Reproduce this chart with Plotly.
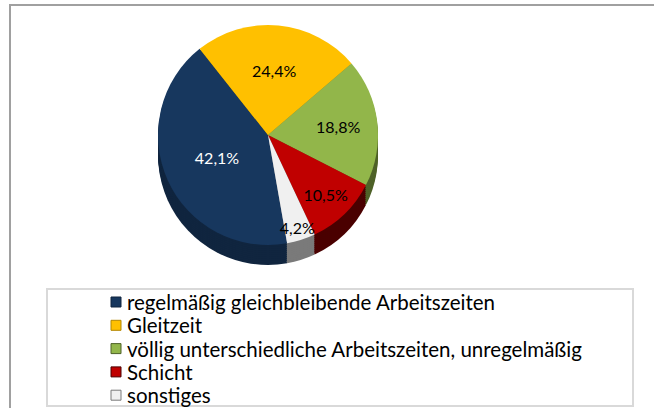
import plotly.graph_objects as go

categories = [
    "regelmäßig gleichbleibende Arbeitszeiten",
    "Gleitzeit",
    "völlig unterschiedliche Arbeitszeiten, unregelmäßig",
    "Schicht",
    "sonstiges",
]
values = [42.1, 24.4, 18.8, 10.5, 4.2]
top_colors = ["#17375E", "#FFC000", "#92B64A", "#C00000", "#F0F0F0"]
side_colors = ["#10253F", "#B38600", "#4F6228", "#4A0000", "#7A7A7A"]
label_colors = ["white", "black", "black", "black", "black"]

W, H = 654, 408
cx, top_y, diam, depth = 268, 25, 220, 20


def domain(offset):
    x0 = (cx - diam / 2) / W
    x1 = (cx + diam / 2) / W
    y_top = top_y + offset
    return dict(x=[x0, x1], y=[1 - (y_top + diam) / H, 1 - y_top / H])


fig = go.Figure()
for off in range(depth, 0, -2):
    fig.add_trace(go.Pie(
        labels=categories, values=values, sort=False, direction="clockwise",
        rotation=170, marker=dict(colors=side_colors, line=dict(width=0)),
        textinfo="none", hoverinfo="skip", showlegend=False, domain=domain(off),
    ))

fig.add_trace(go.Pie(
    labels=categories, values=values, sort=False, direction="clockwise",
    rotation=170, marker=dict(colors=top_colors, line=dict(width=0)),
    texttemplate="%{percent:.1%}", textposition="inside",
    insidetextorientation="horizontal",
    insidetextfont=dict(color=label_colors, size=16, family="Lato"),
    domain=domain(0), showlegend=False,
))

# legend box (manual, Excel-style)
shapes = [
    dict(type="rect", xref="paper", yref="paper",
         x0=10 / W, x1=1.02, y0=-0.02, y1=1 - 5 / H,
         line=dict(color="#A0A0A0", width=2)),
    dict(type="rect", xref="paper", yref="paper",
         x0=47 / W, x1=633 / W, y0=1 - 406 / H, y1=1 - 289 / H,
         line=dict(color="#D9D9D9", width=2)),
]
annotations = []
row0, row_gap = 302, 23.3
for i, (name, col) in enumerate(zip(categories, top_colors)):
    yc = row0 + i * row_gap
    shapes.append(dict(type="rect", xref="paper", yref="paper",
                       x0=111 / W, x1=121 / W,
                       y0=1 - (yc + 5) / H, y1=1 - (yc - 5) / H,
                       fillcolor=col, line=dict(color=side_colors[i], width=1)))
    annotations.append(dict(xref="paper", yref="paper", x=125 / W, y=1 - yc / H,
                            xanchor="left", yanchor="middle", text=name,
                            showarrow=False,
                            font=dict(size=20.5, color="black", family="Lato")))

fig.update_layout(
    width=W, height=H, margin=dict(l=0, r=0, t=0, b=0),
    paper_bgcolor="white", plot_bgcolor="white",
    separators=",.",
    uniformtext=dict(minsize=16, mode="show"),
    font=dict(family="Lato", color="black"),
    showlegend=False,
    shapes=shapes,
    annotations=annotations,
)

fig.write_html("out.html",
               config={"displayModeBar": False},
               post_script="document.body.style.margin='0px';document.body.style.overflow='hidden';")
